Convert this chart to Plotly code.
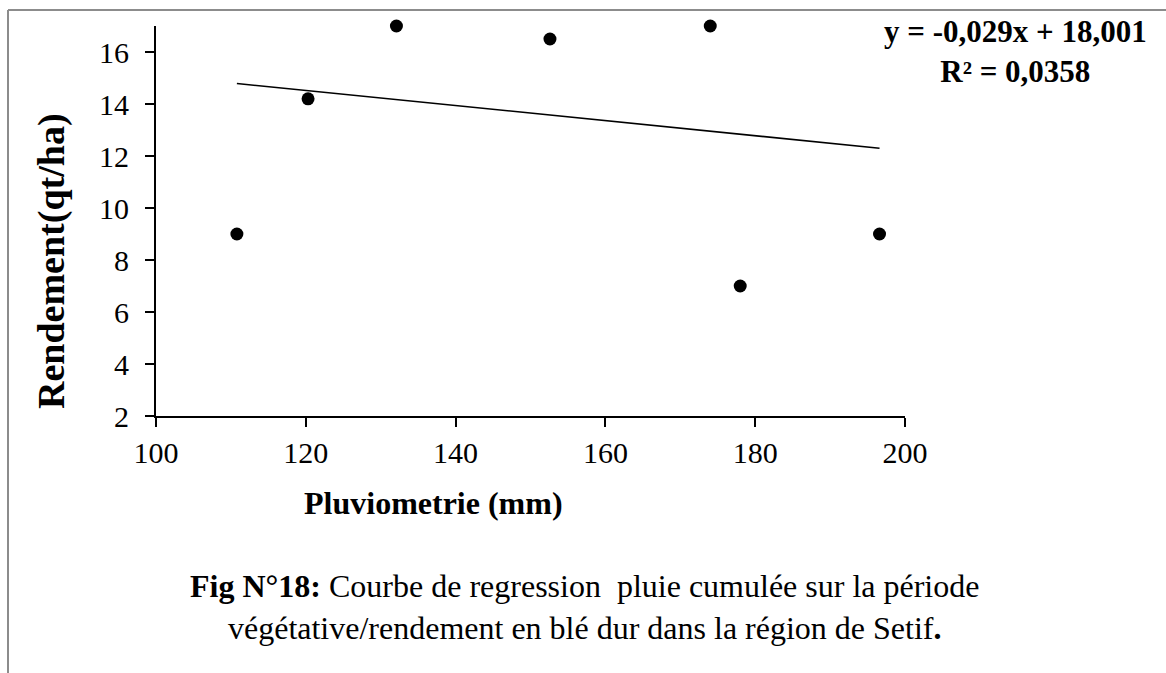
import plotly.graph_objects as go

# Cumulative rainfall over the growing period (mm) and durum wheat yield (qt/ha)
pluviometrie = [110.8, 120.3, 132.1, 152.6, 174.0, 178.0, 196.6]
rendement = [9.0, 14.2, 17.0, 16.5, 17.0, 7.0, 9.0]

# Linear trend line as reported in the equation label
slope = -0.029
intercept = 18.001
r_squared = "0,0358"

x_ticks = [100, 120, 140, 160, 180, 200]
y_ticks = [2, 4, 6, 8, 10, 12, 14, 16]

FONT = "Liberation Serif"

trend_x = [min(pluviometrie), max(pluviometrie)]
trend_y = [slope * v + intercept for v in trend_x]

fig = go.Figure()
fig.add_trace(go.Scatter(
    x=trend_x, y=trend_y, mode="lines",
    line=dict(color="black", width=1.6),
    hoverinfo="skip", showlegend=False,
))
fig.add_trace(go.Scatter(
    x=pluviometrie, y=rendement, mode="markers",
    marker=dict(color="black", size=13),
    cliponaxis=False, showlegend=False,
))

axis_common = dict(
    showgrid=False, zeroline=False, showline=True,
    linecolor="black", linewidth=2,
    ticks="outside", ticklen=9, tickwidth=2, tickcolor="black",
    tickfont=dict(family=FONT, size=30, color="black"),
)

fig.update_xaxes(range=[100, 200], tickvals=x_ticks, ticklabelstandoff=0,
                 **axis_common)
fig.update_yaxes(range=[2, 17], tickvals=y_ticks, ticklabelstandoff=10,
                 **axis_common)

W, H = 1166, 673
L, R, T, B = 156, 261, 26, 257
pw, ph = W - L - R, H - T - B


def px(xp):
    return (xp - L) / pw


def py(yp):
    return (H - B - yp) / ph


def fmt(v):
    return str(v).replace(".", ",")


annotations = [
    dict(text="<b>Pluviometrie (mm)</b>", x=px(433), y=py(503),
         font=dict(family=FONT, size=32, color="black")),
    dict(text="<b>Rendement(qt/ha)</b>", x=px(51), y=py(261), textangle=-90,
         font=dict(family=FONT, size=38, color="black")),
    dict(text=f"<b>y = {fmt(slope)}x + {fmt(intercept)}<br>R² = {r_squared}</b>",
         x=px(1015), y=py(51), align="center",
         font=dict(family=FONT, size=31, color="black")),
    dict(text="<b>Fig N°18:</b> Courbe de regression  pluie cumulée sur la période"
              "<br>végétative/rendement en blé dur dans la région de Setif<b>.</b>",
         x=px(584), y=py(607), align="center",
         font=dict(family=FONT, size=32, color="black")),
]
for a in annotations:
    a.update(xref="paper", yref="paper", showarrow=False,
             xanchor="center", yanchor="middle")

# Frame lines along the top and left edges of the page
shapes = [
    dict(type="line", xref="paper", yref="paper",
         x0=px(8), x1=px(1170), y0=py(10), y1=py(10),
         line=dict(color="#8c8c8c", width=2)),
    dict(type="line", xref="paper", yref="paper",
         x0=px(8), x1=px(8), y0=py(10), y1=py(680),
         line=dict(color="#8c8c8c", width=2)),
]

fig.update_layout(
    width=W, height=H,
    margin=dict(l=L, r=R, t=T, b=B),
    paper_bgcolor="white", plot_bgcolor="white",
    annotations=annotations, shapes=shapes,
    font=dict(family=FONT, color="black"),
)

fig.write_html("out.html")
